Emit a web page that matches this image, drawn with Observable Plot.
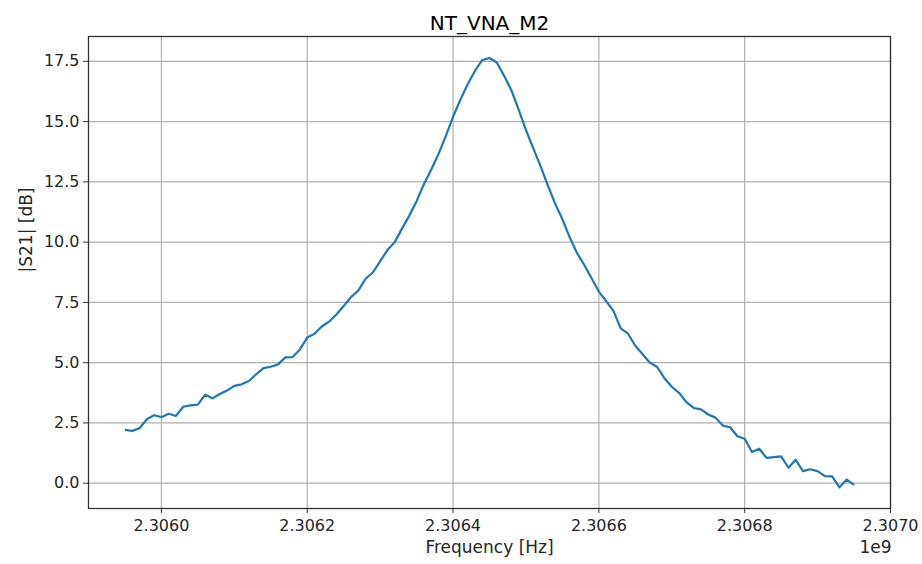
<!DOCTYPE html>
<html>
<head>
<meta charset="utf-8">
<script src="https://cdn.jsdelivr.net/npm/d3@7"></script>
<script src="https://cdn.jsdelivr.net/npm/@observablehq/plot@0.6"></script>
<style>
  html, body { margin: 0; padding: 0; background: #fff; }
</style>
</head>
<body>
<div id="chart"></div>
<script>
const title = "NT_VNA_M2";
const xLabel = "Frequency [Hz]";
const yLabel = "|S21| [dB]";
const xOffsetText = "1e9";

// Frequencies (Hz)
const freqHz = [
  2.30595e9, 2.30596e9, 2.30597e9, 2.30598e9, 2.30599e9, 2.30600e9, 2.30601e9, 2.30602e9, 2.30603e9, 2.30604e9,
  2.30605e9, 2.30606e9, 2.30607e9, 2.30608e9, 2.30609e9, 2.30610e9, 2.30611e9, 2.30612e9, 2.30613e9, 2.30614e9,
  2.30615e9, 2.30616e9, 2.30617e9, 2.30618e9, 2.30619e9, 2.30620e9, 2.30621e9, 2.30622e9, 2.30623e9, 2.30624e9,
  2.30625e9, 2.30626e9, 2.30627e9, 2.30628e9, 2.30629e9, 2.30630e9, 2.30631e9, 2.30632e9, 2.30633e9, 2.30634e9,
  2.30635e9, 2.30636e9, 2.30637e9, 2.30638e9, 2.30639e9, 2.30640e9, 2.30641e9, 2.30642e9, 2.30643e9, 2.30644e9,
  2.30645e9, 2.30646e9, 2.30647e9, 2.30648e9, 2.30649e9, 2.30650e9, 2.30651e9, 2.30652e9, 2.30653e9, 2.30654e9,
  2.30655e9, 2.30656e9, 2.30657e9, 2.30658e9, 2.30659e9, 2.30660e9, 2.30661e9, 2.30662e9, 2.30663e9, 2.30664e9,
  2.30665e9, 2.30666e9, 2.30667e9, 2.30668e9, 2.30669e9, 2.30670e9, 2.30671e9, 2.30672e9, 2.30673e9, 2.30674e9,
  2.30675e9, 2.30676e9, 2.30677e9, 2.30678e9, 2.30679e9, 2.30680e9, 2.30681e9, 2.30682e9, 2.30683e9, 2.30684e9,
  2.30685e9, 2.30686e9, 2.30687e9, 2.30688e9, 2.30689e9, 2.30690e9, 2.30691e9, 2.30692e9, 2.30693e9, 2.30694e9,
  2.30695e9
];

// |S21| in dB
const s21dB = [
  2.21, 2.17, 2.28, 2.65, 2.82, 2.74, 2.88, 2.79, 3.17, 3.23,
  3.26, 3.67, 3.52, 3.70, 3.84, 4.04, 4.10, 4.24, 4.52, 4.77,
  4.83, 4.93, 5.22, 5.23, 5.55, 6.04, 6.20, 6.50, 6.70, 7.00,
  7.35, 7.72, 7.99, 8.48, 8.74, 9.20, 9.67, 10.00, 10.56, 11.10,
  11.70, 12.40, 13.00, 13.65, 14.40, 15.20, 15.90, 16.55, 17.10, 17.55,
  17.64, 17.45, 16.90, 16.30, 15.50, 14.65, 13.90, 13.15, 12.35, 11.60,
  10.95, 10.20, 9.55, 9.05, 8.50, 7.95, 7.55, 7.15, 6.42, 6.20,
  5.70, 5.35, 5.00, 4.82, 4.35, 4.00, 3.75, 3.36, 3.12, 3.06,
  2.85, 2.72, 2.39, 2.32, 1.95, 1.84, 1.29, 1.43, 1.05, 1.08,
  1.11, 0.64, 0.97, 0.50, 0.58, 0.50, 0.29, 0.28, -0.17, 0.15,
  -0.07
];

const xTicks = [2.3060e9, 2.3062e9, 2.3064e9, 2.3066e9, 2.3068e9, 2.3070e9];
const xTickLabels = ["2.3060", "2.3062", "2.3064", "2.3066", "2.3068", "2.3070"];
const yTicks = [0, 2.5, 5, 7.5, 10, 12.5, 15, 17.5];
const yTickLabels = ["0.0", "2.5", "5.0", "7.5", "10.0", "12.5", "15.0", "17.5"];

const data = freqHz.map((f, i) => ({f, s21: s21dB[i]}));

const font = "DejaVu Sans";
const chart = Plot.plot({
  width: 922,
  height: 564,
  marginLeft: 88,
  marginRight: 32,
  marginTop: 36,
  marginBottom: 56,
  style: {fontFamily: font, fontSize: "16px", color: "#262626", background: "#fff"},
  x: {type: "linear", domain: [2.3059e9, 2.3070e9]},
  y: {domain: [-1.05, 18.53]},
  marks: [
    Plot.gridX(xTicks, {stroke: "#b0b0b0", strokeOpacity: 1, strokeWidth: 1.2}),
    Plot.gridY(yTicks, {stroke: "#b0b0b0", strokeOpacity: 1, strokeWidth: 1.2}),
    Plot.line(data, {x: "f", y: "s21", stroke: "#1f77b4", strokeWidth: 2.2, strokeLinejoin: "round", strokeLinecap: "butt"}),
    Plot.frame({stroke: "#333", strokeWidth: 1.3}),
    Plot.axisX(xTicks, {
      tickSize: 5, tickPadding: 6, stroke: "#333",
      tickFormat: (d) => xTickLabels[xTicks.indexOf(d)],
      fontSize: 16, fill: "#262626", label: null
    }),
    Plot.axisY(yTicks, {
      tickSize: 5, tickPadding: 4, stroke: "#333",
      tickFormat: (d) => yTickLabels[yTicks.indexOf(d)],
      fontSize: 16, fill: "#262626", label: null
    }),
    Plot.text([title], {frameAnchor: "top", dy: -21, fontSize: 20, fill: "#000"}),
    Plot.text([xLabel], {frameAnchor: "bottom", dy: 44, fontSize: 17, fill: "#262626"}),
    Plot.text([xOffsetText], {frameAnchor: "bottom-right", textAnchor: "end", dy: 44, dx: 1, fontSize: 17, fill: "#262626"}),
    Plot.text([yLabel], {frameAnchor: "left", rotate: -90, dx: -62, fontSize: 17, fill: "#262626"})
  ]
});
document.getElementById("chart").appendChild(chart);
</script>
</body>
</html>
